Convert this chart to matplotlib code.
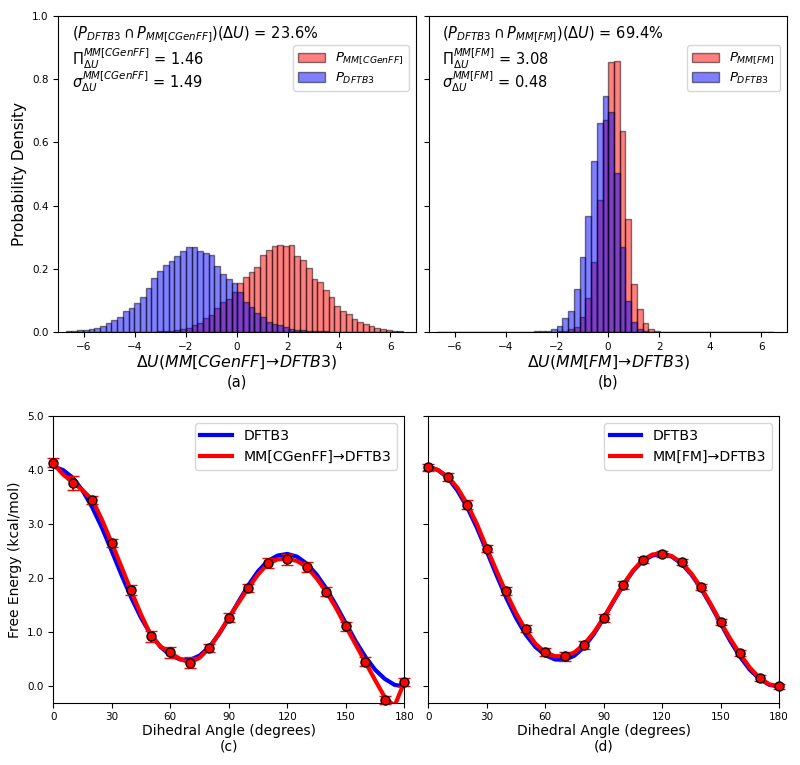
import numpy as np
import matplotlib
matplotlib.use("Agg")
import matplotlib.pyplot as plt
from matplotlib.ticker import FormatStrFormatter

# ---------------- data ----------------
# histogram bins (common grid): first left edge and width
bin_first_edge = -6.71
bin_width = 0.224

# panel (a): MM[CGenFF] -> DFTB3
pa_dftb3 = [0.002, 0.004, 0.007, 0.006, 0.010, 0.014, 0.019, 0.027, 0.039, 0.048,
            0.066, 0.077, 0.092, 0.112, 0.140, 0.170, 0.193, 0.211, 0.226, 0.240,
            0.256, 0.268, 0.268, 0.255, 0.250, 0.245, 0.209, 0.184, 0.167, 0.154,
            0.126, 0.096, 0.078, 0.059, 0.046, 0.033, 0.026, 0.021, 0.015, 0.011,
            0.007, 0.005, 0.004, 0.003, 0.002, 0.002, 0.001, 0.001,
            0, 0, 0, 0, 0, 0, 0, 0, 0, 0, 0]
pa_mm = [0, 0, 0, 0, 0, 0, 0, 0, 0, 0, 0, 0, 0, 0,
         0.001, 0.001, 0.002, 0.003, 0.004, 0.005, 0.008, 0.014, 0.022, 0.028,
         0.045, 0.055, 0.075, 0.095, 0.105, 0.126, 0.154, 0.173, 0.191, 0.205,
         0.244, 0.261, 0.271, 0.275, 0.273, 0.274, 0.240, 0.228, 0.204, 0.169,
         0.158, 0.134, 0.112, 0.081, 0.065, 0.056, 0.042, 0.032, 0.025, 0.019,
         0.014, 0.009, 0.006, 0.004, 0.003]

# panel (b): MM[FM] -> DFTB3
pb_dftb3 = [0, 0, 0, 0, 0, 0, 0, 0, 0, 0, 0, 0, 0, 0,
            0.001, 0.001, 0.001, 0.002, 0.003, 0.004, 0.008, 0.019, 0.045, 0.066,
            0.136, 0.236, 0.367, 0.541, 0.662, 0.747, 0.697, 0.502, 0.268, 0.099,
            0.031, 0.008, 0.002,
            0, 0, 0, 0, 0, 0, 0, 0, 0, 0, 0, 0, 0, 0, 0, 0, 0, 0, 0, 0, 0, 0]
pb_mm = [0, 0, 0, 0, 0, 0, 0, 0, 0, 0, 0, 0, 0, 0, 0, 0, 0, 0, 0, 0, 0,
         0.002, 0.004, 0.008, 0.017, 0.047, 0.107, 0.223, 0.418, 0.670, 0.855,
         0.858, 0.637, 0.357, 0.152, 0.072, 0.027, 0.008, 0.002, 0.001,
         0, 0, 0, 0, 0, 0, 0, 0, 0, 0, 0, 0, 0, 0, 0, 0, 0, 0, 0]

stats_a = ["23.6%", "1.46", "1.49"]
stats_b = ["69.4%", "3.08", "0.48"]

# free energy profiles
curve_angles = [0, 5, 10, 15, 20, 25, 30, 35, 40, 45, 50, 55, 60, 65, 70, 75, 80, 85, 90,
                95, 100, 105, 110, 115, 120, 125, 130, 135, 140, 145, 150, 155, 160,
                165, 170, 175, 180]
fe_dftb3 = [4.07, 4.00, 3.86, 3.62, 3.31, 2.93, 2.50, 2.06, 1.64, 1.27, 0.96, 0.73, 0.58,
            0.50, 0.49, 0.57, 0.73, 0.97, 1.26, 1.57, 1.87, 2.13, 2.32, 2.42, 2.45, 2.40,
            2.27, 2.07, 1.81, 1.50, 1.17, 0.84, 0.55, 0.31, 0.14, 0.03, 0.00]
fe_cgenff_fit = [4.12, 3.92, 3.77, 3.63, 3.45, 3.08, 2.65, 2.21, 1.76, 1.33, 0.95, 0.74,
                 0.62, 0.51, 0.44, 0.53, 0.71, 0.98, 1.27, 1.55, 1.82, 2.07, 2.27, 2.35,
                 2.36, 2.32, 2.21, 2.00, 1.75, 1.45, 1.11, 0.78, 0.45, 0.12, -0.20, -0.36,
                 0.08]
fe_fm_fit = [4.05, 4.00, 3.88, 3.67, 3.37, 3.00, 2.56, 2.14, 1.73, 1.36, 1.04, 0.79, 0.63,
             0.56, 0.56, 0.63, 0.78, 1.00, 1.27, 1.58, 1.88, 2.14, 2.34, 2.44, 2.46, 2.41,
             2.29, 2.09, 1.83, 1.52, 1.19, 0.88, 0.60, 0.35, 0.16, 0.04, 0.00]

point_angles = [0, 10, 20, 30, 40, 50, 60, 70, 80, 90, 100, 110, 120, 130, 140, 150, 160, 170, 180]
pts_cgenff = [4.14, 3.77, 3.45, 2.65, 1.78, 0.93, 0.63, 0.44, 0.71, 1.27, 1.82, 2.28, 2.35,
              2.21, 1.75, 1.11, 0.46, -0.25, 0.08]
err_cgenff = [0.09, 0.13, 0.08, 0.075, 0.09, 0.10, 0.10, 0.10, 0.08, 0.08, 0.08, 0.09, 0.10,
              0.09, 0.08, 0.08, 0.08, 0.08, 0.08]
pts_fm = [4.05, 3.87, 3.36, 2.55, 1.77, 1.07, 0.635, 0.555, 0.77, 1.27, 1.88, 2.34, 2.45,
          2.30, 1.84, 1.19, 0.62, 0.155, 0.0]
err_fm = [0.07, 0.08, 0.08, 0.07, 0.07, 0.07, 0.07, 0.08, 0.07, 0.07, 0.07, 0.06, 0.06,
          0.06, 0.06, 0.06, 0.06, 0.06, 0.05]

# ---------------- figure ----------------
fig = plt.figure(figsize=(8.0, 7.65), dpi=100)
W, H = 800.0, 765.0

def axes_px(l, r, t, b):
    return fig.add_axes([l / W, 1 - b / H, (r - l) / W, (b - t) / H])

ax_a = axes_px(58.3, 415.7, 16, 332)
ax_b = axes_px(429.2, 786.8, 16, 332)
ax_c = axes_px(53.3, 404.3, 416, 702.7)
ax_d = axes_px(428.3, 779.0, 416, 702.7)

TICK_FS = 7.5
LAB_FS = 10.5
centers = bin_first_edge + bin_width * (np.arange(len(pa_dftb3)) + 0.5)


def hist_panel(ax, mm_vals, dft_vals, tag, short, stats, label_letter, show_ylabel):
    ax.bar(centers, mm_vals, width=bin_width, color='red', alpha=0.5,
           edgecolor='black', linewidth=1.0, label=r'$P_{%s}$' % tag)
    ax.bar(centers, dft_vals, width=bin_width, color='blue', alpha=0.5,
           edgecolor='black', linewidth=1.0, label=r'$P_{DFTB3}$')
    ax.set_xlim(-7, 7)
    ax.set_ylim(0, 1.0)
    ax.set_xticks([-6, -4, -2, 0, 2, 4, 6])
    ax.set_yticks([0.0, 0.2, 0.4, 0.6, 0.8, 1.0])
    ax.yaxis.set_major_formatter(FormatStrFormatter('%.1f'))
    ax.tick_params(labelsize=TICK_FS)
    if show_ylabel:
        ax.set_ylabel('Probability Density', fontsize=11)
    else:
        ax.tick_params(labelleft=False)
    ax.set_xlabel(r'$\Delta U(MM[%s]\!\rightarrow\! DFTB3)$' % short,
                  fontsize=11.3, labelpad=1)
    ax.text(0.5, -0.158, '(%s)' % label_letter, transform=ax.transAxes,
            ha='center', va='center', fontsize=10.5)
    ax.text(0.037, 0.94, r'$(P_{DFTB3} \cap P_{%s})(\Delta U)$ = %s' % (tag, stats[0]),
            transform=ax.transAxes, fontsize=LAB_FS, va='center')
    ax.text(0.037, 0.866, r'$\Pi_{\Delta U}^{%s}$ = %s' % (tag, stats[1]),
            transform=ax.transAxes, fontsize=LAB_FS, va='center')
    ax.text(0.037, 0.792, r'$\sigma_{\Delta U}^{%s}$ = %s' % (tag, stats[2]),
            transform=ax.transAxes, fontsize=LAB_FS, va='center')
    ax.legend(loc='upper right', bbox_to_anchor=(1.0, 0.928), fontsize=9.5,
              labelspacing=0.3)


hist_panel(ax_a, pa_mm, pa_dftb3, 'MM[CGenFF]', 'CGenFF', stats_a, 'a', True)
hist_panel(ax_b, pb_mm, pb_dftb3, 'MM[FM]', 'FM', stats_b, 'b', False)


def fe_panel(ax, fit_vals, pts, errs, label, letter, show_ylabel):
    ax.plot(curve_angles, fe_dftb3, color='blue', lw=3, label='DFTB3')
    ax.plot(curve_angles, fit_vals, color='red', lw=3, label=label)
    ax.errorbar(point_angles, pts, yerr=errs, fmt='o', color='red', mec='black',
                mew=1.0, ms=6.5, ecolor='red', elinewidth=1.5, capsize=4.5,
                capthick=1.5, zorder=5, clip_on=False)
    ax.set_xlim(0, 180)
    ax.set_ylim(-0.3, 5.0)
    ax.set_xticks([0, 30, 60, 90, 120, 150, 180])
    ax.set_yticks([0, 1, 2, 3, 4, 5])
    ax.yaxis.set_major_formatter(FormatStrFormatter('%.1f'))
    ax.tick_params(labelsize=TICK_FS)
    ax.set_xlabel('Dihedral Angle (degrees)\n(%s)' % letter, fontsize=10,
                  linespacing=1.15, labelpad=1)
    if show_ylabel:
        ax.set_ylabel('Free Energy (kcal/mol)', fontsize=10)
    else:
        ax.tick_params(labelleft=False)
    ax.legend(loc='upper right', fontsize=10.2, handlelength=2.25)


fe_panel(ax_c, fe_cgenff_fit, pts_cgenff, err_cgenff, 'MM[CGenFF]→DFTB3', 'c', True)
fe_panel(ax_d, fe_fm_fit, pts_fm, err_fm, 'MM[FM]→DFTB3', 'd', False)

fig.savefig('out.png', dpi=100)
